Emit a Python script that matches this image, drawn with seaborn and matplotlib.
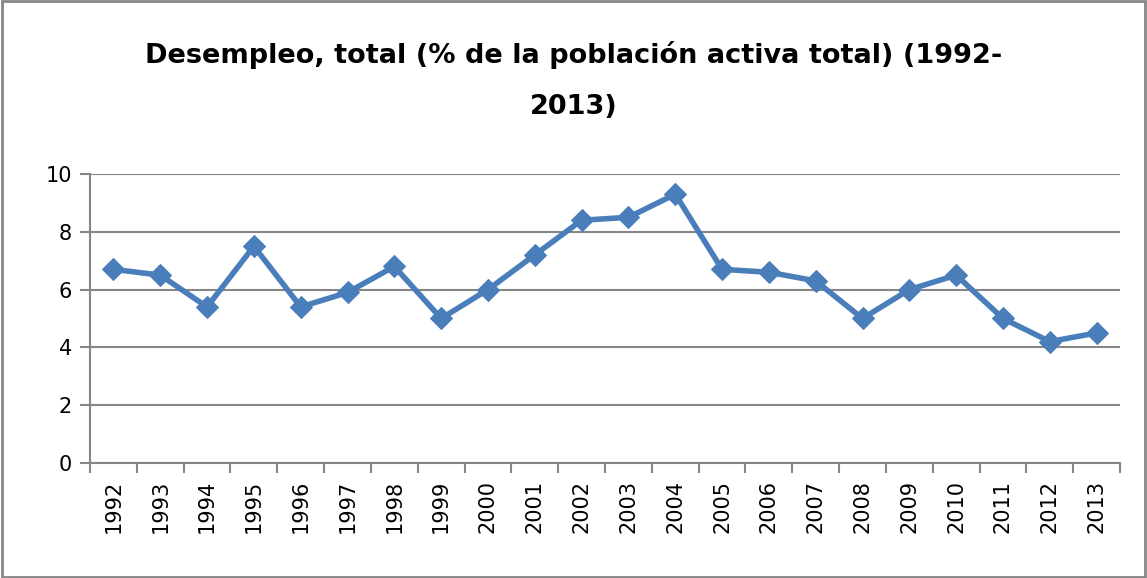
import matplotlib
matplotlib.use("Agg")
import matplotlib.pyplot as plt
import seaborn as sns
import pandas as pd
from matplotlib.patches import Rectangle

years = [str(y) for y in range(1992, 2014)]
desempleo = [6.7, 6.5, 5.4, 7.5, 5.4, 5.9, 6.8, 5.0, 6.0, 7.2, 8.4,
             8.5, 9.3, 6.7, 6.6, 6.3, 5.0, 6.0, 6.5, 5.0, 4.2, 4.5]

df = pd.DataFrame({"pos": range(len(years)), "year": years, "value": desempleo})

sns.set_style("white")
plt.rcParams['font.family'] = ['DejaVu Sans']

fig = plt.figure(figsize=(11.47, 5.78), dpi=100)
ax = fig.add_axes([0.0785, 0.199, 0.898, 0.500])

sns.lineplot(data=df, x="pos", y="value", ax=ax, color="#4A7EBB",
             linewidth=4, marker="D", markersize=11,
             markeredgecolor="#4A7EBB")

ax.set_xlim(-0.5, len(years) - 0.5)
ax.set_ylim(0, 10)
ax.set_yticks(range(0, 11, 2))
ax.set_xticks(range(len(years)))
ax.set_xticklabels(years, rotation=90, fontsize=15, color="black")
ax.set_xticks([i - 0.5 for i in range(len(years) + 1)], minor=True)
ax.tick_params(axis="x", which="major", bottom=False, length=0, pad=12)
ax.tick_params(axis="x", which="minor", bottom=True, length=7, width=1.5,
               color="#868686", direction="out")
ax.tick_params(axis="y", left=True, labelsize=15, labelcolor="black", length=7,
               width=1.5, color="#868686", direction="out", pad=6)
ax.set_xlabel("")
ax.set_ylabel("")
ax.grid(axis="y", color="#868686", linewidth=1.5)
for s in ["top", "right"]:
    ax.spines[s].set_visible(False)
for s in ["left", "bottom"]:
    ax.spines[s].set_color("#868686")
    ax.spines[s].set_linewidth(1.5)
ax.set_axisbelow(True)

fig.text(0.5, 0.905, "Desempleo, total (% de la población activa total) (1992-",
         ha="center", va="center", fontsize=19.5, fontweight="bold", color="black")
fig.text(0.5, 0.815, "2013)", ha="center", va="center", fontsize=19.5,
         fontweight="bold", color="black")

fig.patches.append(Rectangle((0.002, 0.002), 0.996, 0.996, transform=fig.transFigure,
                             fill=False, edgecolor="#868686", linewidth=2))

fig.savefig("out.png", dpi=100)
